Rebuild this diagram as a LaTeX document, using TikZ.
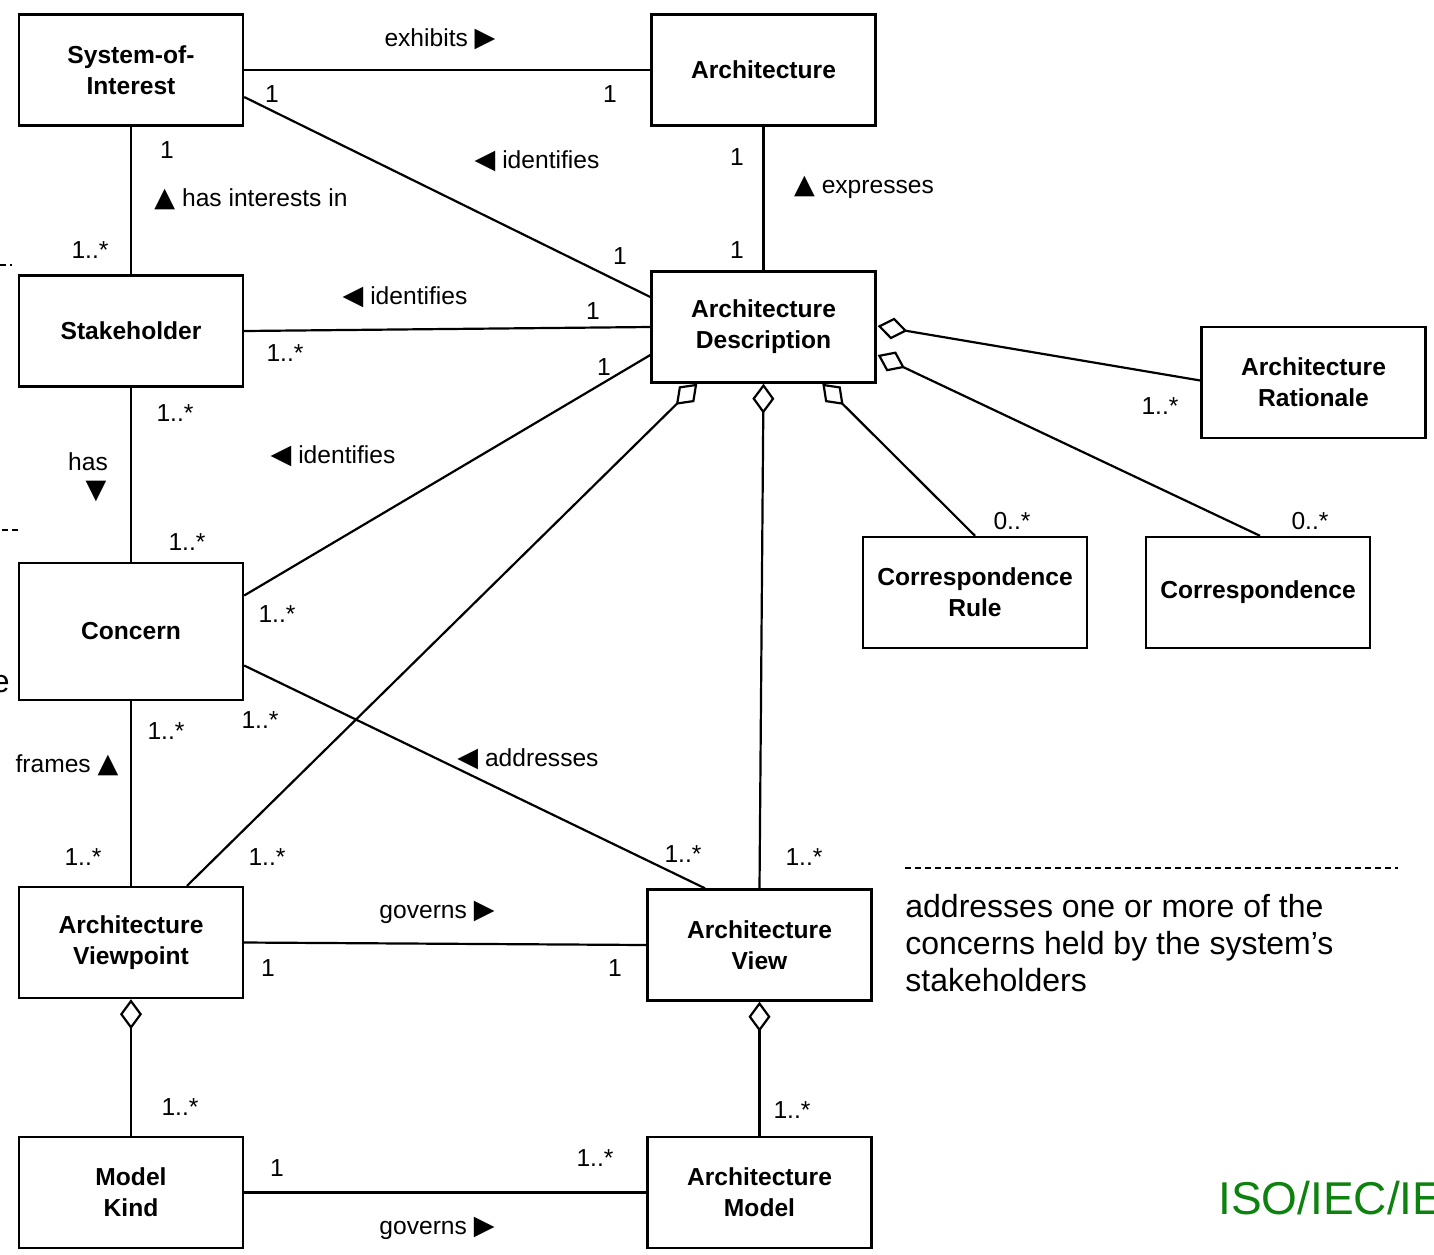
\documentclass[tikz,border=0pt]{standalone}
\usepackage{fontspec}
\setmainfont{Liberation Sans}
\newfontfamily\symfont{DejaVu Sans}
\usetikzlibrary{arrows.meta,calc}
\definecolor{isogreen}{RGB}{14,130,14}

% small triangle glyphs used as reading-direction markers
\newcommand{\trimark}[1]{{\symfont\fontsize{13.5}{13.5}\selectfont #1}}
\newcommand{\rtri}{\trimark{▶}}
\newcommand{\ltri}{\trimark{◀}}
\newcommand{\utri}{\trimark{▲}}
\newcommand{\dtri}{\trimark{▼}}

\begin{document}
\begin{tikzpicture}[x=0.5pt,y=-0.5pt,
  cls/.style={draw, line width=1.2pt, minimum width=112pt, minimum height=55.5pt,
    inner sep=0pt, align=center, font=\bfseries\fontsize{12.3}{15.5}\selectfont},
  assoc/.style={line width=1.1pt},
  agg/.style={line width=1.1pt, {Diamond[open,length=15pt,width=11pt]}-},
  lbl/.style={inner sep=0pt, font=\fontsize{12.3}{14}\selectfont},
  notetext/.style={inner sep=0pt, align=left, font=\fontsize{16}{18.5}\selectfont},
  dashline/.style={line width=0.75pt, dash pattern=on 3pt off 2pt},
]
\clip (0,0) rectangle (1434,1254);
\fill[white] (0,0) rectangle (1434,1254);

% classes
\node[cls] (soi)  at (131,70)   {System-of-\\Interest};
\node[cls] (arch) at (763.5,70) {Architecture};
\node[cls] (sh)   at (131,331)  {Stakeholder};
\node[cls] (ad)   at (763.5,327){Architecture\\Description};
\node[cls] (ar)   at (1313.5,382.5) {Architecture\\Rationale};
\node[cls] (cr)   at (975,592.5){Correspondence\\Rule};
\node[cls] (cor)  at (1258,592.5) {Correspondence};
\node[cls, minimum height=68.5pt] (con) at (131,631.5) {Concern};
\node[cls] (vp)   at (131,942.5){Architecture\\Viewpoint};
\node[cls] (view) at (759.5,945){Architecture\\View};
\node[cls] (mk)   at (131,1192.5) {Model\\Kind};
\node[cls] (am)   at (759.5,1192.5) {Architecture\\Model};

% associations
\draw[assoc] (soi.east) -- (arch.west);
\draw[assoc] ($(soi.east)+(0,27)$) -- ($(ad.west)+(0,-30)$);
\draw[assoc] (soi.south) -- (sh.north);
\draw[assoc] (arch.south) -- (ad.north);
\draw[assoc] (sh.east) -- (ad.west);
\draw[assoc] (sh.south) -- (con.north);
\draw[assoc] ($(con.east)+(0,-36)$) -- ($(ad.west)+(0,28)$);
\draw[assoc] ($(con.east)+(0,34)$) -- ($(view.north)+(-54.5,0)$);
\draw[assoc] (con.south) -- (vp.north);
\draw[assoc] (vp.east) -- (view.west);
\draw[assoc] (mk.east) -- (am.west);

% aggregations
\draw[agg] ($(ad.east)+(1,-1)$) -- ($(ar.west)+(0,-2)$);
\draw[agg] ($(ad.east)+(1,28)$) -- ($(cor.north)+(2,0)$);
\draw[agg] ($(ad.south west)+(172,0)$) -- (cr.north);
\draw[agg] (ad.south) -- (view.north);
\draw[agg] ($(ad.south west)+(47,0)$) -- ($(vp.north)+(56,0)$);
\draw[agg] (vp.south) -- (mk.north);
\draw[agg] (view.south) -- (am.north);

% role names and multiplicities
\node[lbl] (t1)  at (440,39)   {exhibits \rtri};
\node[lbl] (m1)  at (272,94)   {1};
\node[lbl] (m2)  at (610,94)   {1};
\node[lbl] (t2)  at (537,161)  {\ltri\ identifies};
\node[lbl] (m3)  at (620,256)  {1};
\node[lbl] (m4)  at (167,150)  {1};
\node[lbl] (t3)  at (251,199)  {\utri\ has interests in};
\node[lbl] (m5)  at (90,250)   {1..*};
\node[lbl] (m6)  at (737,157)  {1};
\node[lbl] (t4)  at (864,187)  {\utri\ expresses};
\node[lbl] (m7)  at (737,250)  {1};
\node[lbl] (t5)  at (405,297)  {\ltri\ identifies};
\node[lbl] (m8)  at (593,311)  {1};
\node[lbl] (m9)  at (285,353)  {1..*};
\node[lbl] (m10) at (604,367)  {1};
\node[lbl] (m11) at (175,413)  {1..*};
\node[lbl] (t6)  at (88,462)   {has};
\node[lbl] (t6b) at (96,491)   {\dtri};
\node[lbl] (t7)  at (333,456)  {\ltri\ identifies};
\node[lbl] (m12) at (187,542)  {1..*};
\node[lbl] (m13) at (277,614)  {1..*};
\node[lbl] (m14) at (1160,406) {1..*};
\node[lbl] (m15) at (1012,521) {0..*};
\node[lbl] (m16) at (1310,521) {0..*};
\node[lbl] (m17) at (166,731)  {1..*};
\node[lbl] (m18) at (260,720)  {1..*};
\node[lbl] (t8)  at (67,765)   {frames \utri};
\node[lbl] (t9)  at (528,759)  {\ltri\ addresses};
\node[lbl] (m19) at (83,857)   {1..*};
\node[lbl] (m20) at (267,857)  {1..*};
\node[lbl] (m21) at (683,854)  {1..*};
\node[lbl] (m22) at (804,857)  {1..*};
\node[lbl] (t10) at (437,912)  {governs \rtri};
\node[lbl] (m23) at (268,968)  {1};
\node[lbl] (m24) at (615,968)  {1};
\node[lbl] (m25) at (180,1107) {1..*};
\node[lbl] (m26) at (792,1110) {1..*};
\node[lbl] (m27) at (277,1168) {1};
\node[lbl] (m28) at (595,1158) {1..*};
\node[lbl] (t11) at (437,1228) {governs \rtri};

% side note
\coordinate (nl) at (905,868);
\coordinate (nr) at (1398,868);
\draw[dashline] (nl) -- (nr);
\node[notetext, anchor=north west] (note) at (905,894)
  {addresses one or more of the\\concerns held by the system’s\\stakeholders};

% title running off the right edge
\node[inner sep=0pt, anchor=base west, text=isogreen, font=\fontsize{23}{23}\selectfont]
  (iso) at (1218,1214) {ISO/IEC/IE};

% pieces of neighbouring material cut by the left edge
\coordinate (d1a) at (0,265);
\coordinate (d1b) at (12,265);
\draw[dashline] (d1a) -- (d1b);
\coordinate (d2a) at (2,530);
\coordinate (d2b) at (20,530);
\draw[dashline] (d2a) -- (d2b);
\node[inner sep=0pt, anchor=base east, font=\fontsize{16}{18}\selectfont] (frag) at (10,692) {e};
\end{tikzpicture}
\end{document}
